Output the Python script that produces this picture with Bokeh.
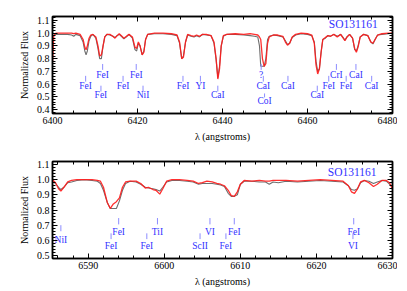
from bokeh.plotting import figure
from bokeh.layouts import column
from bokeh.models import (ColumnDataSource, FixedTicker, LinearAxis, Range1d,
                          PrintfTickFormatter, CustomJSTickFormatter)
from bokeh.embed import file_html
from bokeh.resources import INLINE
from bokeh.core.properties import value

FONT = "Liberation Serif"
AXIS_FONT = "'Liberation Serif', serif"
BLUE = "#3232ff"
TICKBLUE = "#8c8cff"

# ---------------- top panel data ----------------
top_wave = [6400.0, 6400.3, 6400.8, 6402.0, 6403.5, 6404.5, 6405.0, 6405.5, 6406.5, 6407.2,
            6407.6, 6407.9, 6408.2, 6408.6, 6409.0, 6409.5, 6410.2, 6410.7, 6411.1, 6411.5,
            6411.9, 6412.3, 6412.8, 6413.5, 6414.2, 6414.7, 6415.2, 6415.7, 6416.2, 6416.8,
            6417.4, 6418.0, 6418.8, 6419.4, 6419.8, 6420.2, 6420.6, 6421.1, 6421.5, 6421.9,
            6422.4, 6424.0, 6426.0, 6428.0, 6429.3, 6429.9, 6430.4, 6430.8, 6431.3, 6431.8,
            6432.6, 6433.3, 6433.9, 6434.6, 6435.3, 6436.2, 6437.3, 6438.0, 6438.5, 6438.9,
            6439.3, 6439.7, 6440.2, 6441.0, 6443.0, 6445.0, 6446.5, 6447.5, 6448.3, 6448.7,
            6449.0, 6449.4, 6449.8, 6450.2, 6450.6, 6451.0, 6452.0, 6453.0, 6454.2, 6454.8,
            6455.3, 6455.8, 6456.4, 6457.2, 6458.5, 6460.0, 6461.0, 6461.6, 6462.0, 6462.4,
            6462.8, 6463.2, 6463.6, 6464.2, 6464.8, 6465.4, 6466.2, 6467.0, 6467.8, 6468.4,
            6468.8, 6469.3, 6469.9, 6470.6, 6471.1, 6471.5, 6471.9, 6472.4, 6473.2, 6474.2,
            6474.9, 6475.4, 6475.9, 6476.5, 6477.5, 6479.0, 6480.0]
top_model = [0.77, 0.98, 1.00, 1.00, 1.00, 1.00, 0.995, 1.00, 0.99, 0.95,
             0.89, 0.87, 0.90, 0.96, 0.985, 0.99, 0.97, 0.90, 0.82, 0.83,
             0.90, 0.97, 0.99, 0.99, 0.975, 0.96, 0.98, 0.995, 0.98, 0.96,
             0.975, 0.99, 0.97, 0.89, 0.88, 0.93, 0.90, 0.83, 0.85, 0.95,
             0.99, 1.00, 1.00, 0.995, 0.985, 0.93, 0.80, 0.81, 0.93, 0.99,
             0.98, 0.975, 0.985, 0.975, 0.99, 0.99, 0.98, 0.93, 0.80, 0.64,
             0.72, 0.90, 0.98, 0.99, 0.995, 0.99, 0.995, 0.99, 0.985, 0.97,
             0.95, 0.80, 0.74, 0.76, 0.92, 0.97, 0.985, 0.985, 0.975, 0.93,
             0.905, 0.92, 0.97, 0.99, 1.00, 0.995, 0.985, 0.92, 0.75, 0.68,
             0.72, 0.85, 0.95, 0.965, 0.98, 0.975, 0.99, 0.97, 0.99, 0.96,
             0.94, 0.97, 0.99, 0.96, 0.88, 0.85, 0.89, 0.97, 0.99, 0.98,
             0.93, 0.92, 0.95, 0.985, 0.995, 1.00, 1.00]
top_obs = [0.97, 0.98, 0.99, 0.99, 0.99, 0.985, 0.975, 0.99, 0.98, 0.93,
           0.86, 0.83, 0.86, 0.94, 0.975, 0.99, 0.96, 0.88, 0.80, 0.80,
           0.90, 0.97, 0.99, 0.985, 0.975, 0.965, 0.98, 0.99, 0.975, 0.955,
           0.97, 0.99, 0.96, 0.87, 0.86, 0.92, 0.90, 0.83, 0.86, 0.95,
           0.99, 0.995, 0.995, 0.99, 0.98, 0.92, 0.80, 0.82, 0.93, 0.985,
           0.975, 0.97, 0.98, 0.97, 0.99, 0.985, 0.98, 0.92, 0.79, 0.65,
           0.74, 0.90, 0.975, 0.99, 0.99, 0.985, 0.98, 0.975, 0.97, 0.90,
           0.74, 0.74, 0.74, 0.80, 0.95, 0.975, 0.985, 0.98, 0.97, 0.94,
           0.91, 0.92, 0.965, 0.985, 0.995, 0.99, 0.98, 0.93, 0.78, 0.70,
           0.72, 0.85, 0.95, 0.96, 0.98, 0.975, 0.99, 0.975, 0.99, 0.965,
           0.945, 0.97, 0.99, 0.96, 0.87, 0.86, 0.90, 0.97, 0.99, 0.98,
           0.93, 0.915, 0.95, 0.985, 0.99, 0.995, 1.00]

top_line_names = ["FeI", "FeI", "FeI", "FeI", "FeI", "NiI", "FeI", "YI", "CaI", "?",
                  "CaI", "CoI", "CaI", "CaI", "FeI", "CrI", "FeI", "CaI", "CaI"]
top_line_waves = [6407.8, 6411.8, 6411.4, 6416.6, 6419.7, 6421.3, 6430.7, 6434.8, 6438.9, 6449.1,
                  6449.6, 6449.9, 6455.4, 6462.3, 6465.0, 6466.8, 6469.1, 6471.4, 6475.1]
top_line_levels = [2, 1, 3, 2, 1, 3, 2, 2, 3, 1, 2, 4, 2, 3, 2, 1, 2, 1, 2]
top_xticks = [6400, 6420, 6440, 6460, 6480]
top_yticks = [0.4, 0.5, 0.6, 0.7, 0.8, 0.9, 1.0, 1.1]

# ---------------- bottom panel data ----------------
bot_wave = [6585.3, 6585.7, 6586.1, 6586.4, 6586.8, 6587.3, 6587.8, 6588.5, 6589.5, 6590.5,
            6591.2, 6591.6, 6592.0, 6592.5, 6592.9, 6593.3, 6593.7, 6594.1, 6594.5, 6594.9,
            6595.5, 6596.3, 6596.9, 6597.5, 6597.9, 6598.5, 6598.9, 6599.4, 6599.8, 6600.3,
            6601.0, 6602.0, 6603.0, 6603.8, 6604.5, 6605.0, 6605.6, 6606.3, 6606.9, 6607.4,
            6607.9, 6608.4, 6608.8, 6609.2, 6609.6, 6610.0, 6610.5, 6611.5, 6612.5, 6613.3,
            6613.8, 6614.3, 6615.0, 6616.0, 6617.5, 6619.0, 6620.5, 6622.0, 6623.5, 6624.2,
            6624.6, 6625.0, 6625.4, 6625.8, 6626.3, 6626.9, 6627.5, 6628.0, 6628.6, 6629.2,
            6629.6, 6630.0]
bot_model = [1.00, 0.98, 0.94, 0.925, 0.95, 0.985, 0.995, 1.00, 1.00, 1.00,
             0.995, 0.99, 0.95, 0.85, 0.81, 0.84, 0.855, 0.88, 0.95, 0.985,
             0.99, 0.99, 0.975, 0.945, 0.95, 0.935, 0.93, 0.905, 0.94, 0.99,
             1.00, 1.00, 0.995, 0.99, 0.975, 0.98, 0.99, 0.985, 0.975, 0.97,
             0.96, 0.93, 0.895, 0.89, 0.92, 0.97, 0.995, 0.99, 0.995, 0.99,
             0.99, 0.995, 0.995, 0.995, 0.99, 0.995, 1.00, 0.995, 0.99, 0.96,
             0.92, 0.91, 0.94, 0.985, 0.995, 0.98, 0.955, 0.97, 0.995, 0.995,
             0.98, 0.94]
bot_obs = [0.99, 0.975, 0.95, 0.935, 0.95, 0.98, 0.985, 0.995, 1.00, 0.995,
           0.99, 0.975, 0.93, 0.85, 0.81, 0.81, 0.81, 0.86, 0.93, 0.975,
           0.99, 0.985, 0.97, 0.95, 0.945, 0.94, 0.935, 0.925, 0.95, 0.985,
           0.995, 0.995, 0.99, 0.985, 0.97, 0.975, 0.975, 0.975, 0.97, 0.965,
           0.955, 0.91, 0.89, 0.89, 0.90, 0.97, 0.99, 0.99, 0.985, 0.985,
           0.97, 0.985, 0.98, 0.99, 0.985, 0.99, 0.995, 0.99, 0.985, 0.96,
           0.935, 0.93, 0.94, 0.98, 0.995, 0.99, 0.975, 0.985, 0.995, 0.99,
           0.97, 0.95]

bot_line_names = ["NiI", "FeI", "FeI", "FeI", "TiI", "ScII", "VI", "FeI", "FeI", "FeI", "VI"]
bot_line_waves = [6586.4, 6593.0, 6594.0, 6597.7, 6599.1, 6604.7, 6606.0, 6608.1, 6609.2, 6624.9, 6624.8]
bot_line_levels = [0, 2, 1, 2, 1, 2, 1, 2, 1, 1, 2]
bot_xticks = [6590, 6600, 6610, 6620, 6630]
bot_yticks = [0.5, 0.6, 0.7, 0.8, 0.9, 1.0, 1.1]

star_name = "SO131161"

# level -> (tick top, tick bottom, label centre) in flux units
TOP_LEVELS = {1: (0.758, 0.712, 0.673), 2: (0.665, 0.62, 0.588),
              3: (0.588, 0.542, 0.512), 4: (0.527, 0.496, 0.468)}
BOT_LEVELS = {0: (0.70, 0.66, 0.603), 1: (0.747, 0.705, 0.657), 2: (0.646, 0.608, 0.56)}


def style_axis(ax, ticks, minor, labels=True):
    ax.ticker = FixedTicker(ticks=ticks, minor_ticks=minor)
    ax.axis_line_width = 1.5
    ax.axis_line_color = "black"
    ax.major_tick_in = 5
    ax.major_tick_out = 0
    ax.minor_tick_in = 3
    ax.minor_tick_out = 0
    ax.major_tick_line_width = 1
    ax.minor_tick_line_width = 1
    if labels:
        ax.major_label_text_font = AXIS_FONT
        ax.major_label_text_font_size = "10px"
        ax.major_label_text_color = "black"
        ax.major_label_standoff = 3
        ax.axis_label_text_font = AXIS_FONT
        ax.axis_label_text_font_size = "10px"
        ax.axis_label_text_font_style = "normal"
        ax.axis_label_text_color = "black"
        ax.axis_label_standoff = 4
    else:
        ax.formatter = CustomJSTickFormatter(code="return '';")
        ax.major_label_standoff = 0
        ax.major_label_text_font_size = "1px"


def make_panel(wave, model, obs, names, waves, levels, level_map, xr, yr, xticks, yticks,
               xminor_step, name_pos, min_top, min_bottom):
    p = figure(output_backend="svg", toolbar_location=None,
               frame_width=340, frame_height=97,
               x_range=Range1d(*xr), y_range=Range1d(*yr),
               min_border_left=52, min_border_right=5, min_border_top=min_top,
               min_border_bottom=min_bottom)
    p.background_fill_color = "white"
    p.border_fill_color = "white"
    p.outline_line_color = "black"
    p.outline_line_width = 1.5
    p.xgrid.visible = False
    p.ygrid.visible = False

    xminor = []
    v = xr[0] - (xr[0] % xminor_step)
    while v <= xr[1]:
        xminor.append(v)
        v += xminor_step
    yminor = [round(0.3 + 0.02 * i, 2) for i in range(45)]

    style_axis(p.xaxis[0], xticks, xminor)
    p.xaxis[0].axis_label = "λ (angstroms)"
    style_axis(p.yaxis[0], yticks, yminor)
    p.yaxis[0].axis_label = "Normalized Flux"
    p.yaxis[0].formatter = PrintfTickFormatter(format="%.1f")

    ax_r = LinearAxis()
    style_axis(ax_r, yticks, yminor, labels=False)
    p.add_layout(ax_r, "right")
    ax_t = LinearAxis()
    style_axis(ax_t, xticks, xminor, labels=False)
    p.add_layout(ax_t, "above")

    src = ColumnDataSource(dict(x=wave, model=model, obs=obs))
    p.line("x", "obs", source=src, line_color="#6e6e6e", line_width=1.1)
    p.line("x", "model", source=src, line_color="#ff1a1a", line_width=1.3, line_alpha=0.9)

    t0 = [level_map[l][0] for l in levels]
    t1 = [level_map[l][1] for l in levels]
    ty = [level_map[l][2] for l in levels]
    asrc = ColumnDataSource(dict(x=waves, t0=t0, t1=t1, ty=ty, name=names))
    p.segment(x0="x", y0="t0", x1="x", y1="t1", source=asrc, line_color=TICKBLUE, line_width=1)
    p.text(x="x", y="ty", text="name", source=asrc, text_color=BLUE,
           text_font=value(FONT), text_font_size=value("9.5px"),
           text_align="center", text_baseline="middle")

    p.text(x=[name_pos[0]], y=[name_pos[1]], text=[star_name], text_color=BLUE,
           text_font=value(FONT), text_font_size=value("11.5px"),
           text_align="right", text_baseline="middle")
    return p


p1 = make_panel(top_wave, top_model, top_obs, top_line_names, top_line_waves, top_line_levels,
                TOP_LEVELS, (6400, 6480), (0.37, 1.13), top_xticks, top_yticks, 5,
                (6476.5, 1.073), 16, 40)
p2 = make_panel(bot_wave, bot_model, bot_obs, bot_line_names, bot_line_waves, bot_line_levels,
                BOT_LEVELS, (6585.3, 6630), (0.48, 1.12), bot_xticks, bot_yticks, 2,
                (6627.9, 1.05), 8, 26)

layout = column(p1, p2, spacing=0)
open("out.html", "w").write(file_html(layout, INLINE))
